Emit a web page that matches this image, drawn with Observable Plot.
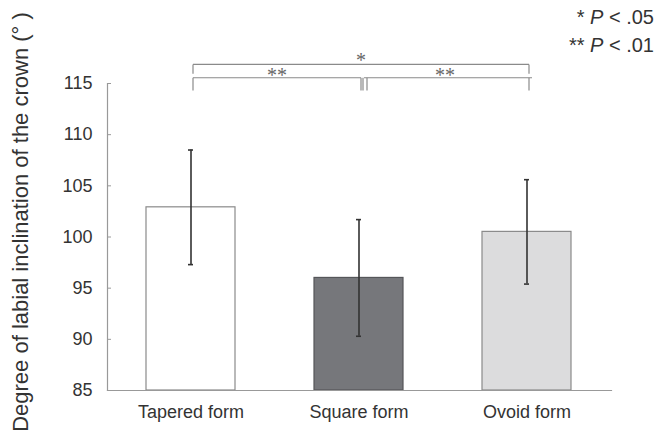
<!DOCTYPE html>
<html><head><meta charset="utf-8">
<script src="https://cdn.jsdelivr.net/npm/d3@7"></script>
<script src="https://cdn.jsdelivr.net/npm/@observablehq/plot@0.6"></script>
<style>
body{margin:0;background:#fff}
#wrap{position:relative;width:671px;height:435px}
.leg{position:absolute;right:17px;font:20px "Liberation Sans",Arial,sans-serif;color:#333;text-align:right;line-height:22px;white-space:pre}
</style>
</head><body>
<div id="wrap">
<div class="leg" style="top:6px">* <i>P</i> &lt; .05</div>
<div class="leg" style="top:34px">** <i>P</i> &lt; .01</div>
</div>
<script>
const forms = ["Tapered form", "Square form", "Ovoid form"];
const means = [102.9, 96.0, 100.5];
const sds = [5.6, 5.7, 5.1];
const fills = ["#ffffff", "#76777b", "#dcdcdd"];
const strokes = ["#8a8a8a", "#555659", "#8a8a8a"];
const yTicks = [85, 90, 95, 100, 105, 110, 115];
const yLabel = "Degree of labial inclination of the crown (° )";
// significance brackets: bar level, leg bottom, label level (axis units)
const comparisons = [
  {a: "Tapered form", b: "Square form", label: "**", level: 115.56, leg: 114.32, text: 116.27},
  {a: "Square form", b: "Ovoid form", label: "**", level: 115.56, leg: 114.32, text: 116.27},
  {a: "Tapered form", b: "Ovoid form", label: "*", level: 116.86, leg: 115.95, text: 117.74}
];

const data = forms.map((f, i) => ({form: f, mean: means[i], lo: means[i] - sds[i], hi: means[i] + sds[i], fill: fills[i], stroke: strokes[i]}));

const W = 671, H = 435, mT = 83, mB = 45, mL = 107, mR = 60;
const xOpts = {domain: forms, paddingInner: 0.47, paddingOuter: 0.235};
const xs = Plot.scale({x: {...xOpts, range: [mL, W - mR]}});
const center = f => xs.apply(f) + xs.bandwidth / 2;

const font = '"Liberation Sans", Arial, sans-serif';
const lower = comparisons.slice(0, 2);
const upper = comparisons.slice(2);
const bk = {stroke: "#8a8a8a", strokeWidth: 1.2};

const chart = Plot.plot({
  width: W, height: H,
  marginTop: mT, marginBottom: mB, marginLeft: mL, marginRight: mR,
  style: {fontFamily: font, fontSize: "18px", color: "#333", background: "white", overflow: "visible"},
  x: {...xOpts, label: null},
  y: {domain: [85, 115], label: null},
  marks: [
    Plot.barY(data, {x: "form", y1: 85, y2: "mean", fill: "fill", stroke: "stroke", strokeWidth: 1.2}),
    Plot.frame({anchor: "left", stroke: "#999", strokeWidth: 1.2}),
    Plot.frame({anchor: "bottom", stroke: "#999", strokeWidth: 1.2}),
    Plot.axisY({ticks: yTicks, tickSize: 0, tickPadding: 15, label: null, fontSize: 18, fill: "#333"}),
    Plot.axisY({ticks: yTicks, text: null, tickSize: 4, dx: 4, stroke: "#999", label: null}),
    Plot.axisX({tickSize: 0, tickPadding: 15, label: null, fontSize: 18, fill: "#333"}),
    Plot.ruleX(data, {x: "form", y1: "lo", y2: "hi", stroke: "#333", strokeWidth: 1.6}),
    Plot.tickY(data, {x: "form", y: "hi", insetLeft: 42, insetRight: 42, stroke: "#333", strokeWidth: 1.6}),
    Plot.tickY(data, {x: "form", y: "lo", insetLeft: 42, insetRight: 42, stroke: "#333", strokeWidth: 1.6}),
    // lower brackets
    Plot.link([lower[0]], {x1: "a", x2: "b", y1: "level", y2: "level", ...bk, dx: 2}),
    Plot.link([lower[1]], {x1: "a", x2: "b", y1: "level", y2: "level", ...bk, dx: 5}),
    Plot.link(lower, {x1: "a", x2: "a", y1: "level", y2: "leg", ...bk, dx: 2}),
    Plot.link([lower[0]], {x1: "b", x2: "b", y1: "level", y2: "leg", ...bk, dx: 4}),
    Plot.link([lower[1]], {x1: "a", x2: "a", y1: "level", y2: "leg", ...bk, dx: 8}),
    Plot.link([lower[1]], {x1: "b", x2: "b", y1: "level", y2: "leg", ...bk, dx: 2}),
    // upper bracket
    Plot.link(upper, {x1: "a", x2: "b", y1: "level", y2: "level", ...bk, dx: 2}),
    Plot.link(upper, {x1: "a", x2: "a", y1: "level", y2: "leg", ...bk, dx: 2}),
    Plot.link(upper, {x1: "b", x2: "b", y1: "level", y2: "leg", ...bk, dx: 2}),
    // significance labels at bracket midpoints
    ...comparisons.map(c => Plot.text([c], {
      x: "a", y: "text", text: "label", dx: (center(c.b) - center(c.a)) / 2 + 2, dy: 5,
      fill: "#666", fontSize: 20, fontFamily: '"Liberation Serif", serif'
    })),
    Plot.text([yLabel], {frameAnchor: "left", rotate: -90, dx: -87, dy: -15, text: d => d, fontSize: 22, fill: "#333", textAnchor: "middle", lineAnchor: "middle"})
  ]
});
document.getElementById("wrap").prepend(chart);
</script>
</body></html>
